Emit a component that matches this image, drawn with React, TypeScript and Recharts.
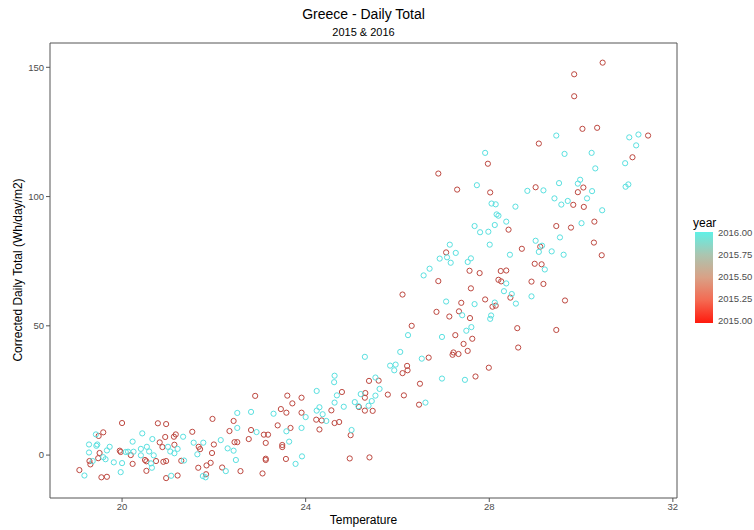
import React from 'react';
import { ScatterChart, Scatter, XAxis, YAxis, ReferenceArea } from 'recharts';

const X_TICKS = [20, 24, 28, 32];
const Y_TICKS = [0, 50, 100, 150];
const X_DOMAIN = [18.43, 32.09];
const Y_DOMAIN = [-16.6, 159.4];
const LEGEND_LABELS = ['2016.00', '2015.75', '2015.50', '2015.25', '2015.00'];

// [temperature, corrected daily total]
const POINTS_2015: [number, number][] = [
  [30.47, 151.8], [29.85, 147.3], [29.85, 138.8], [30.03, 126.2], [30.35, 126.6], [29.08, 120.5],
  [31.46, 123.6], [27.97, 112.7], [31.12, 115.2], [26.89, 108.9], [27.3, 102.7], [28.02, 101.6],
  [29.01, 103.6], [30.05, 103.5], [29.93, 101.7], [29.83, 96.8], [30.06, 96.0], [28.42, 87.2],
  [29.46, 88.6], [29.78, 88.0], [30.29, 90.3], [30.28, 82.2], [30.45, 77.3], [29.11, 80.6],
  [28.71, 79.8], [27.06, 78.4], [27.57, 71.3], [27.79, 70.4], [28.25, 71.2], [28.37, 71.4],
  [28.99, 74.0], [29.14, 73.8], [26.89, 67.3], [28.2, 67.8], [28.26, 67.2], [28.92, 67.1],
  [29.18, 66.2], [27.6, 64.5], [28.46, 60.9], [29.65, 59.8], [27.39, 58.9], [27.91, 60.2],
  [28.07, 57.4], [28.14, 57.8], [26.85, 55.4], [27.34, 55.6], [27.13, 53.6], [27.58, 53.0],
  [28.61, 49.1], [29.46, 48.4], [27.26, 46.4], [27.63, 45.0], [26.11, 62.1], [26.31, 50.0],
  [27.44, 43.0], [27.53, 40.3], [27.2, 38.8], [27.22, 39.7], [27.33, 39.1], [28.63, 41.6],
  [26.68, 37.7], [26.21, 34.5], [26.11, 31.7], [26.22, 32.8], [27.99, 33.8], [27.7, 30.4],
  [26.49, 27.6], [25.38, 28.7], [25.59, 28.8], [24.79, 24.4], [25.3, 24.0], [25.29, 22.2],
  [25.79, 23.4], [26.14, 23.1], [25.16, 18.6], [25.29, 17.2], [25.46, 17.1], [26.47, 19.5],
  [24.56, 17.3], [22.9, 22.9], [23.6, 23.0], [23.91, 22.2], [23.71, 20.0], [23.46, 17.8],
  [23.58, 16.4], [23.91, 16.4], [24.23, 13.7], [24.35, 13.4], [24.63, 12.4], [24.73, 12.8],
  [22.43, 13.2], [23.39, 11.5], [24.3, 9.9], [22.81, 9.7], [23.67, 10.5], [22.34, 9.3],
  [22.76, 6.2], [23.09, 7.9], [23.18, 7.9], [22.45, 5.0], [22.51, 5.0], [23.13, 4.7],
  [23.49, 3.9], [23.49, 3.1], [24.98, 7.7], [23.13, -1.4], [23.13, -1.9], [23.57, -1.5],
  [22.18, -4.8], [22.58, -6.2], [23.06, -7.1], [24.96, -1.3], [25.39, -0.9], [20.0, 12.4],
  [20.78, 12.3], [20.96, 12.0], [21.97, 14.0], [21.53, 9.0], [21.17, 8.0], [21.13, 7.1],
  [19.59, 8.8], [19.49, 7.4], [20.94, 7.0], [20.82, 4.9], [20.88, 3.1], [21.14, 4.0],
  [21.67, 3.2], [21.7, 2.3], [22.0, 4.1], [19.51, 0.8], [19.95, 1.7], [19.97, 1.2],
  [20.19, 0.0], [21.96, 0.8], [19.48, -1.2], [19.29, -2.3], [19.31, -3.6], [20.23, -3.4],
  [20.5, -1.9], [20.53, -2.4], [20.74, -2.3], [20.9, -2.6], [20.96, -2.3], [21.29, -2.2],
  [21.84, -4.0], [21.93, -3.0], [21.66, -4.9], [19.07, -5.8], [20.53, -6.1], [19.55, -8.6],
  [19.67, -8.4], [20.96, -8.9], [21.21, -7.9], [21.83, -7.4],
];

const POINTS_2016: [number, number][] = [
  [29.46, 123.6], [31.05, 122.9], [31.25, 124.0], [31.2, 119.8], [27.91, 116.9], [29.64, 116.5],
  [30.23, 116.9], [30.96, 112.9], [30.31, 110.9], [27.73, 104.4], [28.05, 97.3], [28.14, 97.0],
  [28.57, 96.1], [28.83, 102.2], [29.18, 102.4], [29.52, 105.2], [29.93, 105.0], [29.98, 106.5],
  [30.24, 102.1], [29.42, 99.3], [29.57, 96.9], [29.71, 98.3], [30.13, 99.3], [30.46, 94.7],
  [30.97, 103.8], [31.03, 104.7], [28.16, 93.1], [28.2, 92.6], [28.37, 90.3], [28.12, 89.0],
  [27.68, 88.6], [27.8, 86.2], [27.98, 86.4], [28.01, 81.4], [30.01, 89.7], [29.54, 84.2],
  [29.01, 82.9], [29.15, 81.0], [29.08, 78.6], [29.36, 78.8], [29.62, 77.5], [28.45, 77.5],
  [27.14, 81.4], [27.27, 78.2], [26.92, 76.0], [27.08, 76.5], [27.16, 74.4], [26.7, 72.1],
  [26.57, 69.5], [27.53, 74.7], [27.6, 76.1], [29.21, 71.8], [28.37, 66.4], [28.32, 63.4],
  [28.49, 62.3], [28.58, 58.6], [28.92, 61.4], [27.06, 59.4], [27.68, 58.4], [28.12, 59.0],
  [27.41, 54.1], [28.04, 54.0], [28.02, 52.7], [27.61, 49.5], [27.5, 48.1], [26.97, 45.7],
  [26.23, 46.4], [25.29, 38.0], [26.06, 39.9], [26.53, 37.3], [25.84, 34.6], [25.96, 35.0],
  [25.93, 32.8], [26.97, 29.6], [27.47, 29.1], [24.63, 30.7], [24.62, 28.2], [25.52, 30.0],
  [25.61, 25.6], [24.68, 23.1], [24.63, 20.3], [25.2, 23.6], [25.52, 23.0], [25.44, 20.9],
  [25.07, 20.5], [25.15, 18.9], [25.37, 19.1], [24.83, 18.7], [26.61, 20.3], [24.24, 24.8],
  [23.3, 16.0], [22.81, 16.7], [22.51, 16.3], [24.0, 14.7], [24.24, 17.2], [24.3, 18.5],
  [24.37, 15.8], [24.45, 13.2], [23.91, 10.5], [22.93, 8.9], [23.58, 9.2], [22.51, 10.5],
  [22.15, 5.8], [23.64, 5.2], [25.0, 9.7], [22.3, 2.6], [22.43, 1.7], [22.48, -1.9],
  [23.92, -0.5], [23.78, -3.4], [22.26, -6.2], [20.44, 8.4], [19.43, 8.0], [21.33, 7.1],
  [20.66, 6.2], [20.23, 5.2], [19.28, 4.1], [19.46, 4.1], [19.44, 3.6], [19.73, 3.2],
  [19.67, 1.8], [20.41, 2.4], [20.54, 3.2], [20.59, 1.4], [21.0, 3.2], [21.05, 1.4],
  [21.14, 0.7], [21.21, 2.4], [21.56, 4.8], [21.77, 4.8], [19.28, 1.0], [19.59, -0.8],
  [19.64, -1.6], [20.08, 1.2], [20.13, 1.3], [20.25, 1.3], [20.41, -0.1], [20.69, -0.1],
  [19.82, -2.8], [20.0, -3.1], [21.64, 0.3], [19.36, -2.3], [20.63, -3.2], [20.65, -4.9],
  [21.35, -2.1], [19.18, -7.9], [19.97, -6.6], [21.07, -8.0], [21.76, -8.1], [21.82, -8.6],
];

const RED = '#bd4840';
const CYAN = '#5ae0e0';
const FONT = '"Liberation Sans", Arial, sans-serif';
const TICK = { fill: '#4d4d4d', fontSize: 9.5, fontFamily: FONT };

const ring = (color: string) => (props: any) => (
  <circle cx={props.cx} cy={props.cy} r={2.6} fill="none" stroke={color} strokeWidth={1} />
);

export default function App() {
  const d2015 = POINTS_2015.map(([t, v]) => ({ t, v }));
  const d2016 = POINTS_2016.map(([t, v]) => ({ t, v }));

  return (
    <div style={{ position: 'absolute', left: 0, top: 0, width: 754, height: 530, background: '#fff', fontFamily: FONT }}>
      <ScatterChart width={754} height={530} margin={{ top: 43, right: 77, bottom: 0, left: 0 }}>
        <XAxis
          type="number" dataKey="t" domain={X_DOMAIN} ticks={X_TICKS} height={32}
          axisLine={false} tickLine={{ stroke: '#555' }} tickSize={4} tickMargin={1} tick={TICK}
        />
        <YAxis
          type="number" dataKey="v" domain={Y_DOMAIN} ticks={Y_TICKS} width={50}
          axisLine={false} tickLine={{ stroke: '#555' }} tickSize={4} tickMargin={2} tick={TICK}
        />
        <Scatter data={d2015} shape={ring(RED)} isAnimationActive={false} />
        <Scatter data={d2016} shape={ring(CYAN)} isAnimationActive={false} />
        <ReferenceArea
          x1={X_DOMAIN[0]} x2={X_DOMAIN[1]} y1={Y_DOMAIN[0]} y2={Y_DOMAIN[1]}
          fill="none" stroke="#555" strokeWidth={1} ifOverflow="visible"
        />
      </ScatterChart>

      <div style={{ position: 'absolute', left: 0, width: 727, top: 7, textAlign: 'center', fontSize: 14, lineHeight: '14px', color: '#000' }}>
        Greece - Daily Total
      </div>
      <div style={{ position: 'absolute', left: 0, width: 727, top: 27, textAlign: 'center', fontSize: 11, lineHeight: '11px', color: '#000' }}>
        2015 &amp; 2016
      </div>
      <div style={{ position: 'absolute', left: 0, width: 727, top: 514, textAlign: 'center', fontSize: 12, lineHeight: '12px', color: '#000' }}>
        Temperature
      </div>
      <div style={{
        position: 'absolute', left: 18, top: 270, width: 300, marginLeft: -150, marginTop: -6,
        textAlign: 'center', fontSize: 12, lineHeight: '12px', color: '#000', transform: 'rotate(-90deg)',
      }}>
        Corrected Daily Total (Wh/day/m2)
      </div>

      <div style={{ position: 'absolute', left: 693, top: 217, fontSize: 12, lineHeight: '12px', color: '#000' }}>year</div>
      <div style={{
        position: 'absolute', left: 695, top: 232, width: 18, height: 91,
        background: 'linear-gradient(to bottom, #5ff0e6 0%, #abc5b0 25%, #d9a186 50%, #f46a52 75%, #ff1a0d 100%)',
      }} />
      {LEGEND_LABELS.map((lab, i) => (
        <div key={lab} style={{ position: 'absolute', left: 718, top: 233 + i * 21.9 - 5, fontSize: 9.5, lineHeight: '10px', color: '#4d4d4d' }}>
          {lab}
        </div>
      ))}
    </div>
  );
}
